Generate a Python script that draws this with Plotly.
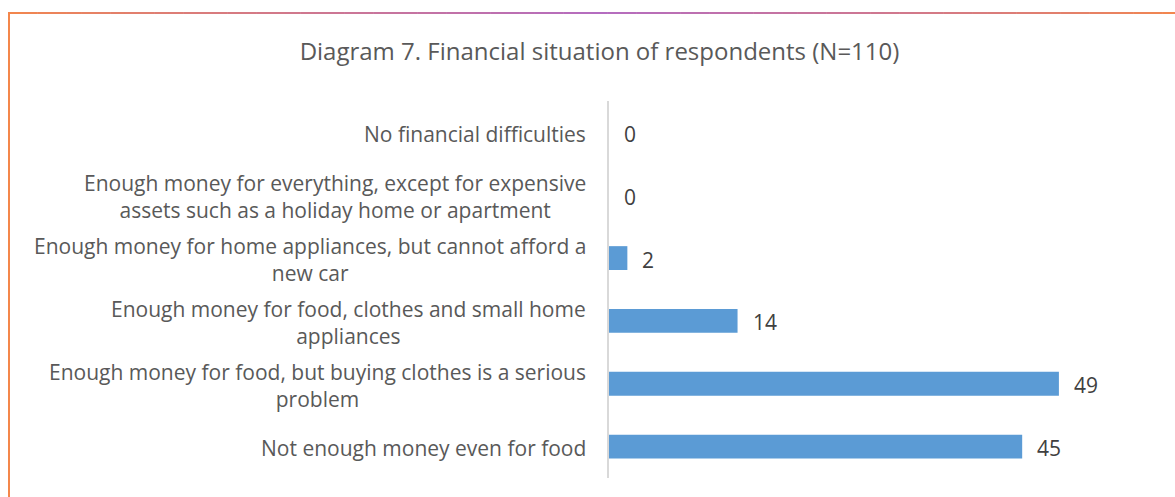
import plotly.graph_objects as go

# Survey answers, top to bottom as listed in the chart
categories = [
    "No financial difficulties",
    "Enough money for everything, except for expensive<br>assets such as a holiday home or apartment",
    "Enough money for home appliances, but cannot afford a<br>new car",
    "Enough money for food, clothes and small home<br>appliances",
    "Enough money for food, but buying clothes is a serious<br>problem",
    "Not enough money even for food",
]
counts = [0, 0, 2, 14, 49, 45]

W, H = 1175, 497
ML, MR, MT, MB = 609, 61, 101, 19
PW, PH = W - ML - MR, H - MT - MB

BAR = "#5B9BD5"
TXT = "#595959"
FONT = "Open Sans"

fig = go.Figure(
    go.Bar(
        x=counts,
        y=categories,
        orientation="h",
        marker=dict(color=BAR, line=dict(width=0)),
        width=0.38,
        hoverinfo="x+y",
    )
)

annotations = []
# category labels, centred multi-line text right-aligned to the axis
for cat in categories:
    annotations.append(dict(
        x=0, xref="paper", y=cat, yref="y",
        text=cat, showarrow=False, xanchor="right", yanchor="middle",
        align="center", xshift=-21, yshift=-1.5,
        font=dict(family=FONT, size=21, color=TXT),
    ))
# value labels just past the end of each bar
for cat, v in zip(categories, counts):
    annotations.append(dict(
        x=v, xref="x", y=cat, yref="y",
        text=str(v), showarrow=False, xanchor="left", yanchor="middle",
        xshift=13, yshift=-1.5,
        font=dict(family=FONT, size=21, color="#404040"),
    ))

# frame: orange left edge and an orange-purple-orange top edge
def px_to_paper_x(px):
    return (px - ML) / PW

def py_to_paper_y(py):
    return (H - MB - py) / PH

def lerp(c1, c2, t):
    return tuple(round(a + (b - a) * t) for a, b in zip(c1, c2))

orange = (244, 135, 75)
purple = (180, 108, 192)
shapes = [dict(
    type="line", xref="paper", yref="paper",
    x0=px_to_paper_x(9), x1=px_to_paper_x(9),
    y0=py_to_paper_y(13), y1=py_to_paper_y(H + 5),
    line=dict(color="rgb(244,135,75)", width=2),
)]
n = 80
x_start, x_end, x_mid = 8, W + 2, 600
for i in range(n):
    a = x_start + (x_end - x_start) * i / n
    b = x_start + (x_end - x_start) * (i + 1) / n
    m = (a + b) / 2
    if m <= x_mid:
        t = (m - x_start) / (x_mid - x_start)
    else:
        t = (x_end - m) / (x_end - x_mid)
    c = lerp(orange, purple, max(0.0, min(1.0, t)) ** 0.8)
    shapes.append(dict(
        type="line", xref="paper", yref="paper",
        x0=px_to_paper_x(a), x1=px_to_paper_x(b + 0.5),
        y0=py_to_paper_y(13), y1=py_to_paper_y(13),
        line=dict(color=f"rgb{c}", width=2),
    ))

fig.update_layout(
    width=W, height=H,
    margin=dict(l=ML, r=MR, t=MT, b=MB),
    paper_bgcolor="white", plot_bgcolor="white",
    showlegend=False,
    title=dict(
        text="Diagram 7. Financial situation of respondents (N=110)",
        x=599.5 / W, xanchor="center", xref="container",
        y=1 - 52 / H, yanchor="middle", yref="container",
        font=dict(family=FONT, size=24, color=TXT),
    ),
    xaxis=dict(range=[0, 55], visible=False, fixedrange=True),
    yaxis=dict(
        categoryorder="array", categoryarray=categories[::-1],
        range=[-0.5, 5.5],
        showticklabels=False, ticks="", showgrid=False, zeroline=False,
        showline=True, linecolor="#D9D9D9", linewidth=1.5,
        fixedrange=True,
    ),
    annotations=annotations,
    shapes=shapes,
    bargap=0.62,
)

fig.write_html("out.html")
